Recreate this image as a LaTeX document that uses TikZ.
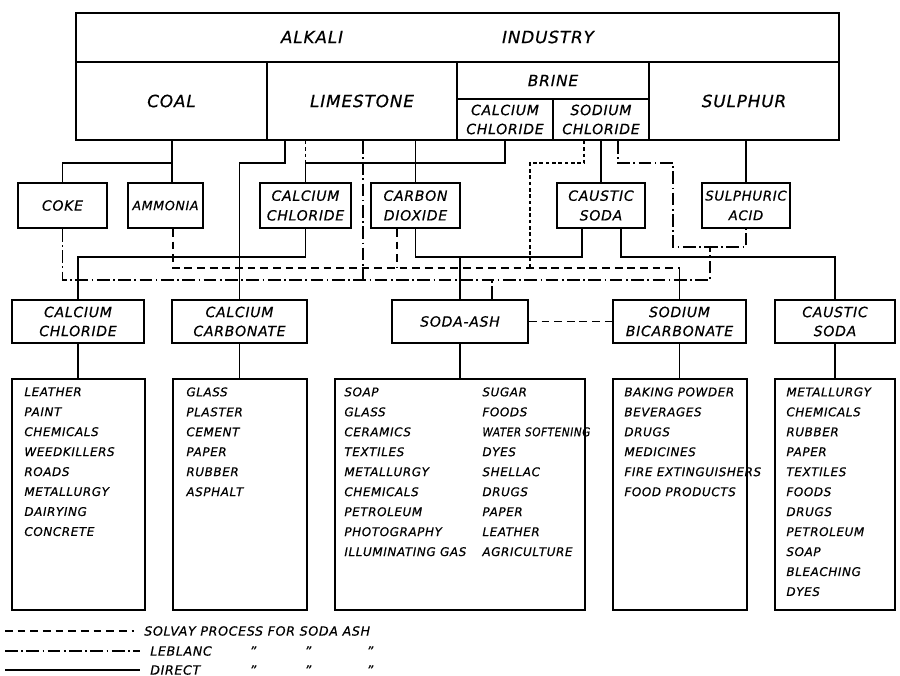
\documentclass[tikz,border=0pt]{standalone}
\usepackage{fontspec}
\setmainfont{DejaVu Sans}[LetterSpace=5, ItalicFeatures={FakeBold=0.5}]
\usepackage{graphicx}
\usepackage{tikz}
\usetikzlibrary{positioning}

\begin{document}
\begin{tikzpicture}[
  x=0.025cm, y=-0.025cm,
  cell/.style={draw, line width=1.2pt, inner sep=0pt, align=center, font=\itshape\fontsize{12}{14}\selectfont},
  subcell/.style={cell, font=\itshape\fontsize{10}{13.5}\selectfont},
  mid/.style={draw, line width=1.2pt, minimum width=2.225cm, minimum height=1.125cm, inner sep=0pt, align=center, font=\itshape\fontsize{10}{14}\selectfont},
  prod/.style={draw, line width=1.2pt, minimum height=1.075cm, inner sep=0pt, align=center, font=\itshape\fontsize{10}{13.5}\selectfont},
  uses/.style={draw, line width=1.2pt, minimum height=5.775cm, inner sep=0pt},
  list/.style={align=left, inner sep=0pt, font=\itshape\fontsize{8.5}{14.2}\selectfont},
  legend/.style={anchor=west, inner xsep=0.25cm, inner ysep=0pt, font=\itshape\fontsize{9}{11}\selectfont},
  direct/.style={line width=0.9pt},
  solvay/.style={line width=0.9pt, dash pattern=on 5.5pt off 3.5pt},
  solvayfine/.style={line width=0.8pt, dash pattern=on 2.5pt off 2pt},
  leblanc/.style={line width=0.9pt, dash pattern=on 9pt off 2.5pt on 1.2pt off 2.5pt}
]
\useasboundingbox (0,0) rectangle (900,676);

\node[cell, minimum width=19.075cm, minimum height=1.225cm] (title) at (457.5,37.5) {};
\node[cell, draw=none] (alkali) at (312,37) {ALKALI};
\node[cell, draw=none] (industry) at (548,37) {INDUSTRY};
\node[cell, minimum width=4.775cm, minimum height=1.95cm] (coal) at (171.5,101) {COAL};
\node[cell, minimum width=4.75cm, minimum height=1.95cm] (limestone) at (362,101) {LIMESTONE};
\node[cell, minimum width=4.8cm, minimum height=0.925cm, font=\itshape\fontsize{11}{13}\selectfont] (brine) at (553,80.5) {BRINE};
\node[subcell, minimum width=2.4cm, minimum height=1.025cm] (bcacl) at (505,119.5) {CALCIUM\\CHLORIDE};
\node[subcell, minimum width=2.4cm, minimum height=1.025cm] (bnacl) at (601,119.5) {SODIUM\\CHLORIDE};
\node[cell, minimum width=4.75cm, minimum height=1.95cm] (sulphur) at (744,101) {SULPHUR};

\node[mid] (coke) at (62.5,205.5) {COKE};
\node[mid, minimum width=1.875cm, font=\itshape\fontsize{9}{14}\selectfont] (ammonia) at (165.5,205.5) {AMMONIA};
\node[mid, minimum width=2.275cm] (cacl) at (305.5,205.5) {CALCIUM\\CHLORIDE};
\node[mid] (co2) at (415.5,205.5) {CARBON\\DIOXIDE};
\node[mid, minimum width=2.2cm] (naoh) at (601,205.5) {CAUSTIC\\SODA};
\node[mid, minimum width=2.2cm, font=\itshape\fontsize{9.5}{14}\selectfont] (h2so4) at (746,205.5) {SULPHURIC\\ACID};

\node[prod, minimum width=3.3cm] (cacl2) at (78,321.5) {CALCIUM\\CHLORIDE};
\node[prod, minimum width=3.375cm] (caco3) at (239.5,321.5) {CALCIUM\\CARBONATE};
\node[prod, minimum width=3.4cm] (sodaash) at (460,321.5) {SODA-ASH};
\node[prod, minimum width=3.325cm] (bicarb) at (679.5,321.5) {SODIUM\\BICARBONATE};
\node[prod, minimum width=3cm] (cslow) at (835,321.5) {CAUSTIC\\SODA};

\node[uses, minimum width=3.325cm] (use1) at (78.5,494.5) {};
\node[uses, minimum width=3.35cm] (use2) at (240,494.5) {};
\node[uses, minimum width=6.25cm] (use3) at (460,494.5) {};
\node[uses, minimum width=3.35cm] (use4) at (680,494.5) {};
\node[uses, minimum width=3cm] (use5) at (835,494.5) {};

\node[list, below right=0.225cm and 0.325cm of use1.north west] (list1) {LEATHER\\PAINT\\CHEMICALS\\WEEDKILLERS\\ROADS\\METALLURGY\\DAIRYING\\CONCRETE};
\node[list, below right=0.225cm and 0.35cm of use2.north west] (list2) {GLASS\\PLASTER\\CEMENT\\PAPER\\RUBBER\\ASPHALT};
\node[list, below right=0.225cm and 0.25cm of use3.north west] (list3a) {SOAP\\GLASS\\CERAMICS\\TEXTILES\\METALLURGY\\CHEMICALS\\PETROLEUM\\PHOTOGRAPHY\\ILLUMINATING GAS};
\node[list, below right=0.225cm and 3.7cm of use3.north west] (list3b) {SUGAR\\FOODS\\\scalebox{0.88}[1]{WATER SOFTENING}\\DYES\\SHELLAC\\DRUGS\\PAPER\\LEATHER\\AGRICULTURE};
\node[list, below right=0.225cm and 0.3cm of use4.north west] (list4) {BAKING POWDER\\BEVERAGES\\DRUGS\\MEDICINES\\FIRE EXTINGUISHERS\\FOOD PRODUCTS};
\node[list, below right=0.225cm and 0.3cm of use5.north west] (list5) {METALLURGY\\CHEMICALS\\RUBBER\\PAPER\\TEXTILES\\FOODS\\DRUGS\\PETROLEUM\\SOAP\\BLEACHING\\DYES};

\coordinate (feedbus) at (0,163);
\coordinate (acidbus) at (0,247);
\coordinate (directbus) at (0,257);
\coordinate (solvaybus) at (0,268);
\coordinate (leblancbus) at (0,280);

\draw[direct] (coal.south -| 172,0) -- (ammonia.north -| 172,0);
\draw[direct] (coal.south -| 172,0) |- (coke.north |- feedbus) -- (coke.north);
\draw[direct] (limestone.south -| 285,0) |- (caco3.north |- feedbus) -- (caco3.north);
\draw[direct] (limestone.south -| co2.north) -- (co2.north);
\draw[direct] (bcacl.south) |- (cacl.north |- feedbus) -- (cacl.north);
\draw[direct] (bnacl.south -| naoh.north) -- (naoh.north);
\draw[direct] (sulphur.south -| h2so4.north) -- (h2so4.north);
\draw[direct] (cacl.south) |- (cacl2.north |- directbus) -- (cacl2.north);
\draw[direct] (co2.south) |- (sodaash.north |- directbus) -- (sodaash.north);
\draw[direct] (naoh.south -| 582,0) |- (sodaash.north |- directbus);
\draw[direct] (naoh.south -| 621,0) |- (cslow.north |- directbus) -- (cslow.north);
\draw[direct] (bicarb.north |- solvaybus) -- (bicarb.north);
\foreach \a/\b in {cacl2/use1, caco3/use2, sodaash/use3, bicarb/use4, cslow/use5}
  \draw[direct] (\a.south) -- (\a.south |- \b.north);

\draw[solvayfine] (limestone.south -| cacl.north) -- (cacl.north |- feedbus);
\draw[solvayfine] (bnacl.south -| 584,0) |- (feedbus -| 530,0) -- (solvaybus -| 530,0);
\draw[solvay] (ammonia.south -| 173,0) |- (bicarb.north |- solvaybus);
\draw[solvay] (co2.south -| 397,0) -- (solvaybus -| 397,0);
\draw[solvay] (sodaash) -- (bicarb);

\draw[leblanc] (coke.south) |- (leblancbus -| 710,0) |- (h2so4.south |- acidbus) -- (h2so4.south);
\draw[leblanc] (limestone.south -| 363,0) -- (leblancbus -| 363,0);
\draw[leblanc] (sodaash.north -| 492,0) -- (leblancbus -| 492,0);
\draw[leblanc] (bnacl.south -| 618,0) |- (feedbus -| 673,0) |- (acidbus -| 710,0);

\coordinate (keysolvay) at (5,631);
\coordinate (keyleblanc) at (5,651);
\coordinate (keydirect) at (5,670);
\node[legend] (txtsolvay) at (134,631) {SOLVAY PROCESS FOR SODA ASH};
\node[legend] (txtleblanc) at (140,651) {LEBLANC};
\node[legend] (txtdirect) at (140,670) {DIRECT};
\draw[solvay] (keysolvay) -- (txtsolvay.west);
\draw[leblanc] (keyleblanc) -- (txtleblanc.west);
\draw[direct, line width=1.3pt] (keydirect) -- (txtdirect.west);
\foreach \x in {253,308,370} {
  \node[legend, anchor=center] (dittoL\x) at (\x,651) {”};
  \node[legend, anchor=center] (dittoD\x) at (\x,670) {”};
}
\end{tikzpicture}
\end{document}
